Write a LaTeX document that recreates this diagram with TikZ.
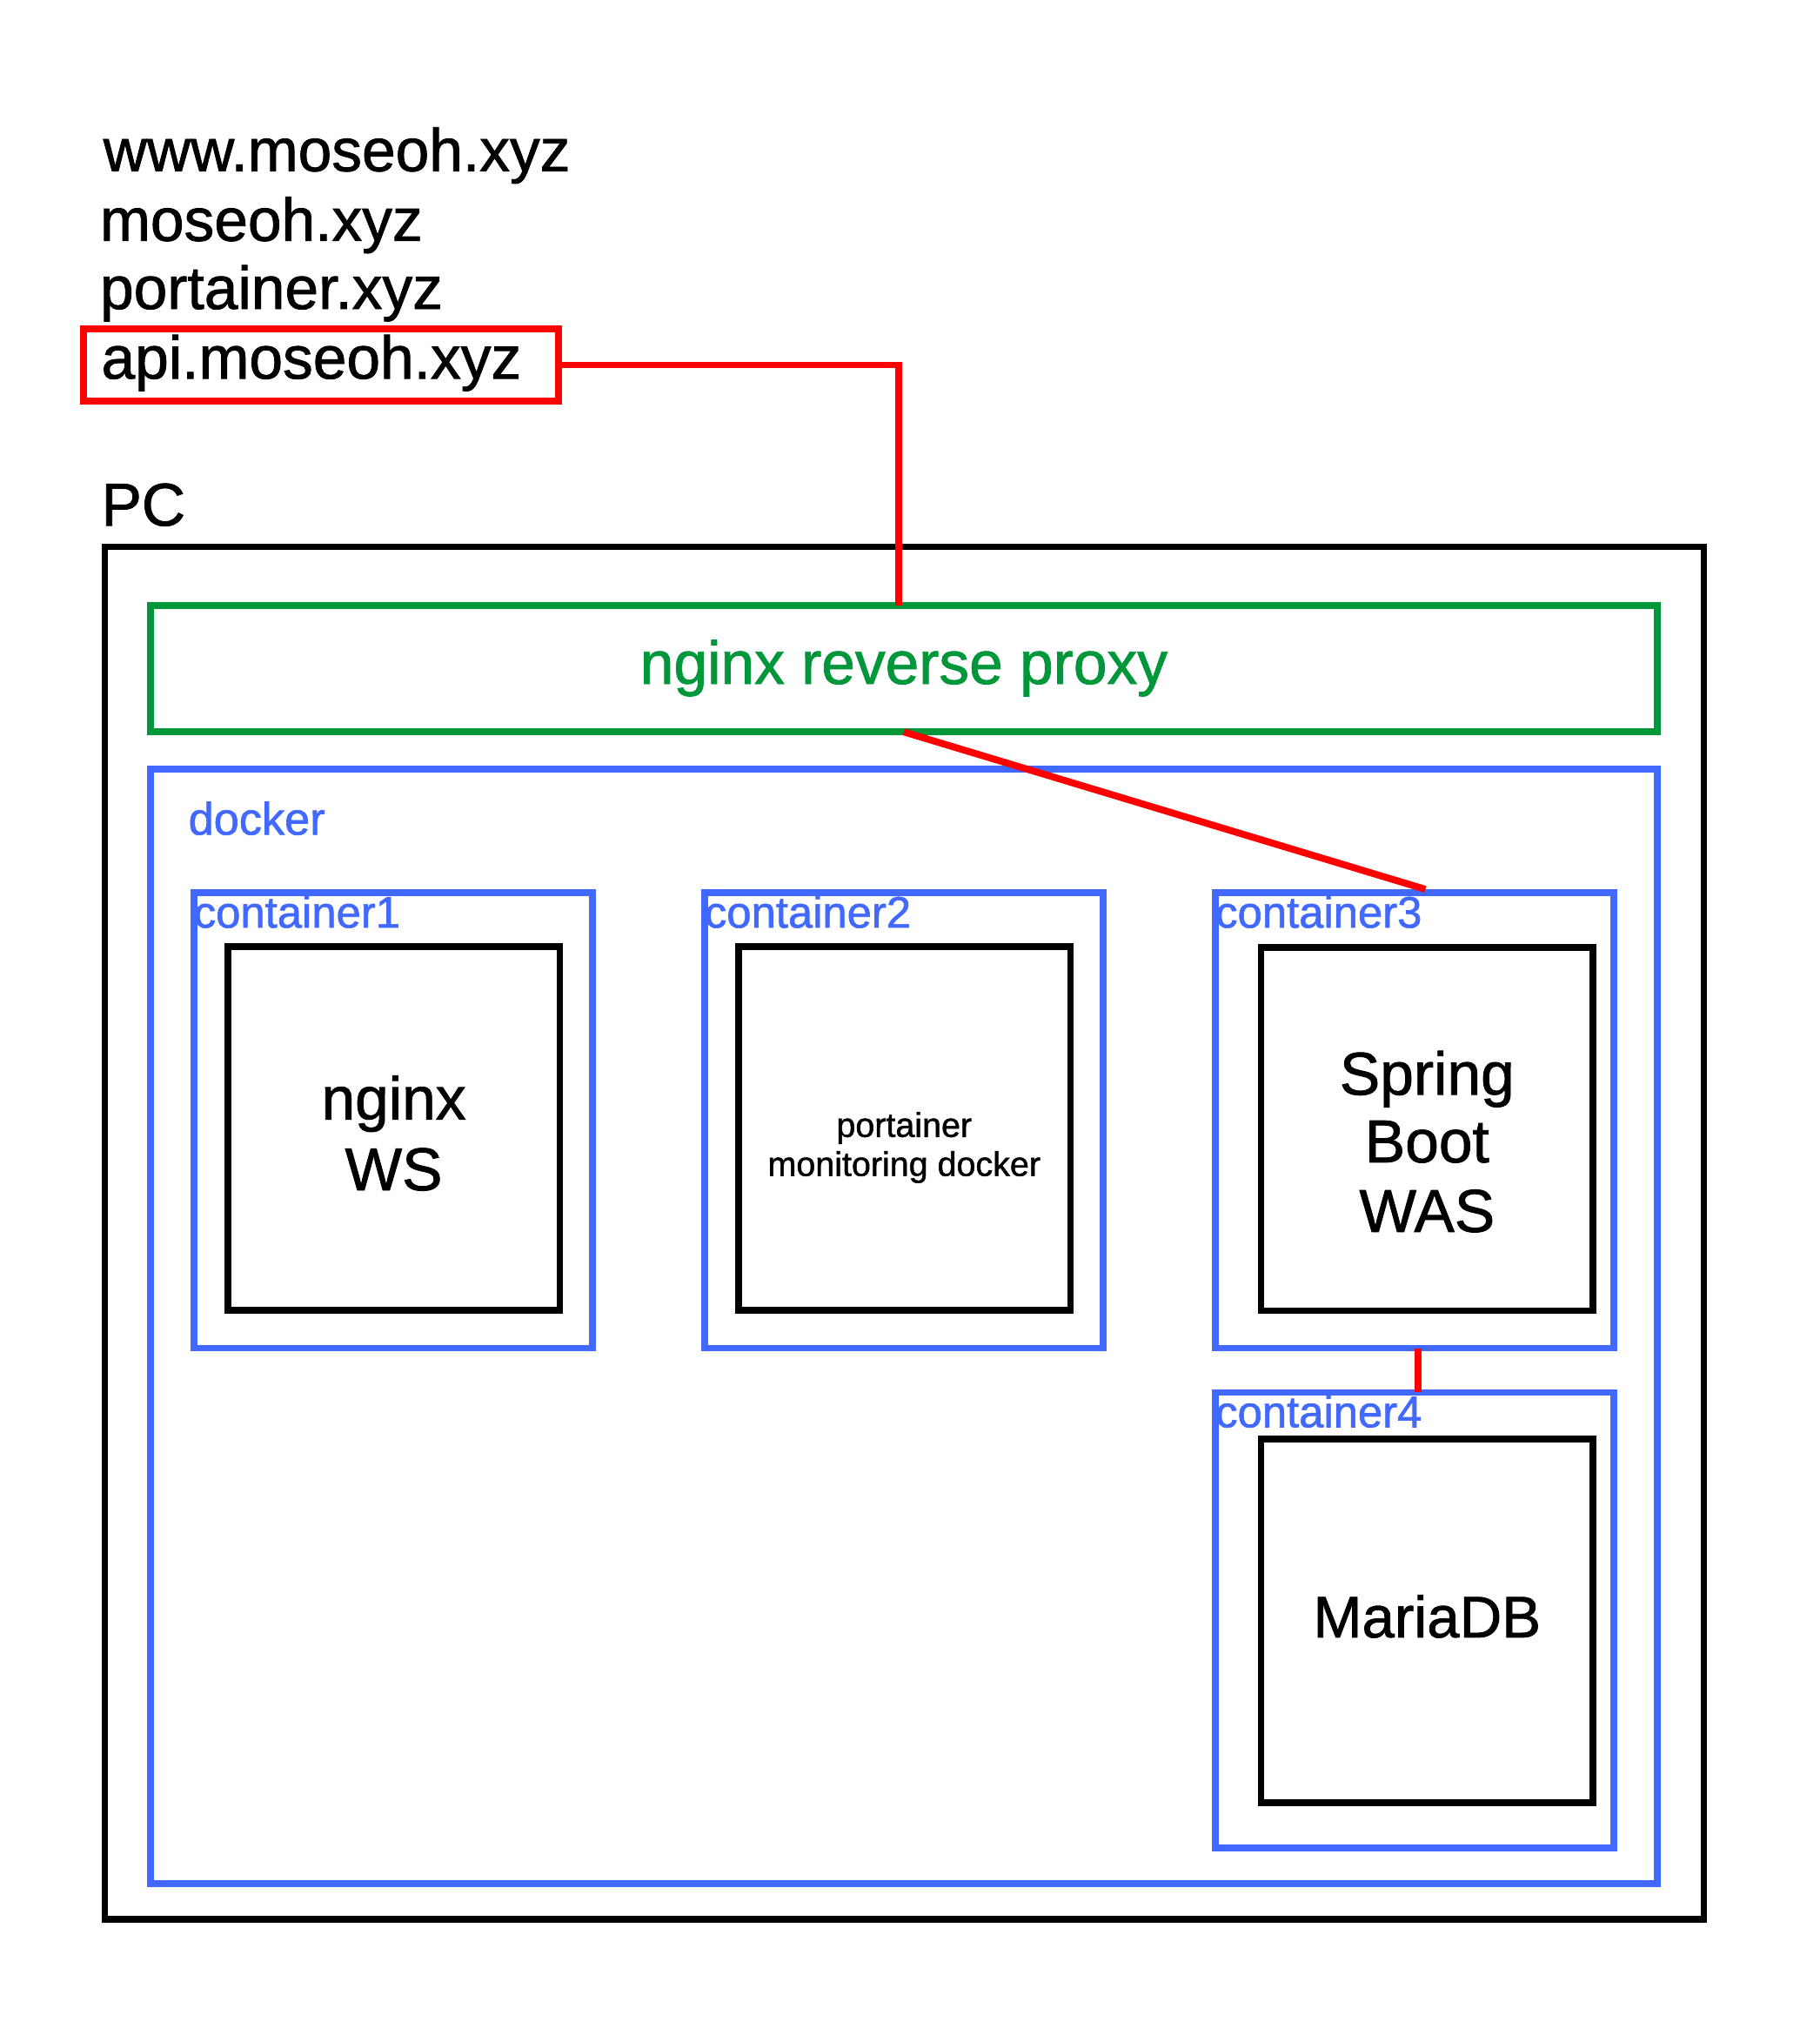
\documentclass[tikz,border=0pt]{standalone}
\usepackage{fontspec}
\setmainfont{Liberation Sans}[FakeBold=1.2]
\definecolor{cred}{HTML}{FF0000}
\definecolor{cgreen}{HTML}{00963A}
\definecolor{cblue}{HTML}{4169FF}
\tikzset{
  box/.style={draw, line width=2.6pt, inner sep=0pt, outer sep=0pt},
  pcbox/.style={box, draw=black, minimum width=615pt, minimum height=527.95pt},
  proxybox/.style={box, draw=cgreen, minimum width=579.7pt, minimum height=48.65pt},
  dockerbox/.style={box, draw=cblue, minimum width=579.7pt, minimum height=428.65pt},
  contbox/.style={box, draw=cblue, minimum width=153.3pt, minimum height=175.15pt},
  appbox/.style={box, draw=black, minimum width=127.75pt, minimum height=139.7pt},
  apibox/.style={box, draw=cred, minimum width=182.7pt, minimum height=27.7pt},
  redline/.style={draw=cred, line width=2.65pt},
  bigtxt/.style={inner sep=0pt, outer sep=0pt, font=\fontsize{23.25pt}{27pt}\selectfont},
  midtxt/.style={inner sep=0pt, outer sep=0pt, text=cblue, font=\fontsize{17pt}{20pt}\selectfont},
  smalltxt/.style={inner sep=0pt, outer sep=0pt, font=\fontsize{13.2pt}{15pt}\selectfont},
}
\begin{document}
\begin{tikzpicture}[x=0.5pt, y=-0.5pt]
\path[use as bounding box, fill=white] (0,0) rectangle (1400,1565.3);
% domain list
\node[bigtxt, anchor=base west] (d1) at (79.5,131.6) {www.moseoh.xyz};
\node[bigtxt, anchor=base west] (d2) at (77,185.2) {moseoh.xyz};
\node[bigtxt, anchor=base west] (d3) at (77,237.6) {portainer.xyz};
\node[bigtxt, anchor=base west] (d4) at (78,291.2) {api.moseoh.xyz};
\node[apibox] (api) at (247,280.7) {};
% PC
\node[bigtxt, anchor=base west] (pclabel) at (78,404.3) {PC};
\node[pcbox] (pc) at (695.6,948.55) {};
% proxy
\node[proxybox] (proxy) at (695.3,514.35) {};
\node[bigtxt, anchor=base, text=cgreen] (proxytxt) at (695.3,526) {nginx reverse proxy};
% docker
\node[dockerbox] (docker) at (695.3,1020.35) {};
\node[midtxt, anchor=base west, font=\fontsize{17.5pt}{20pt}\selectfont] (dockerlabel) at (145,642) {docker};
% containers
\node[contbox] (c1) at (302.4,861.85) {};
\node[contbox] (c2) at (695.3,861.85) {};
\node[contbox] (c3) at (1088.3,861.85) {};
\node[contbox] (c4) at (1088.3,1246.15) {};
\node[midtxt, anchor=base west] (c1l) at (149.1,713.5) {container1};
\node[midtxt, anchor=base west] (c2l) at (542,713.5) {container2};
\node[midtxt, anchor=base west] (c3l) at (935,713.5) {container3};
\node[midtxt, anchor=base west] (c4l) at (935,1097.8) {container4};
% apps
\node[appbox] (a1) at (302.85,868) {};
\node[appbox] (a2) at (695.75,868) {};
\node[appbox] (a3) at (1097.75,868.5) {};
\node[appbox] (a4) at (1097.75,1246.7) {};
\node[bigtxt, anchor=base] (a1t1) at (302.85,861) {nginx};
\node[bigtxt, anchor=base] (a1t2) at (302.85,915.5) {WS};
\node[smalltxt, anchor=base] (a2t1) at (695.5,874.5) {portainer};
\node[smalltxt, anchor=base] (a2t2) at (695.5,904.5) {monitoring docker};
\node[bigtxt, anchor=base] (a3t1) at (1097.75,842) {Spring};
\node[bigtxt, anchor=base] (a3t2) at (1097.75,894) {Boot};
\node[bigtxt, anchor=base] (a3t3) at (1097.75,947.5) {WAS};
\node[bigtxt, anchor=base, font=\fontsize{22.5pt}{27pt}\selectfont] (a4t) at (1097.75,1259.4) {MariaDB};
% connectors
\coordinate (gtop) at (691.4,465.7);
\coordinate (c3top) at (1096.4,684);
\coordinate (c3bot) at (1091,1037);
\coordinate (c4top) at (1091,1071);
\draw[redline] (api.east) -| (gtop);
\draw[redline] (proxy.south) -- (c3top);
\draw[redline] (c3bot) -- (c4top);
\end{tikzpicture}
\end{document}
